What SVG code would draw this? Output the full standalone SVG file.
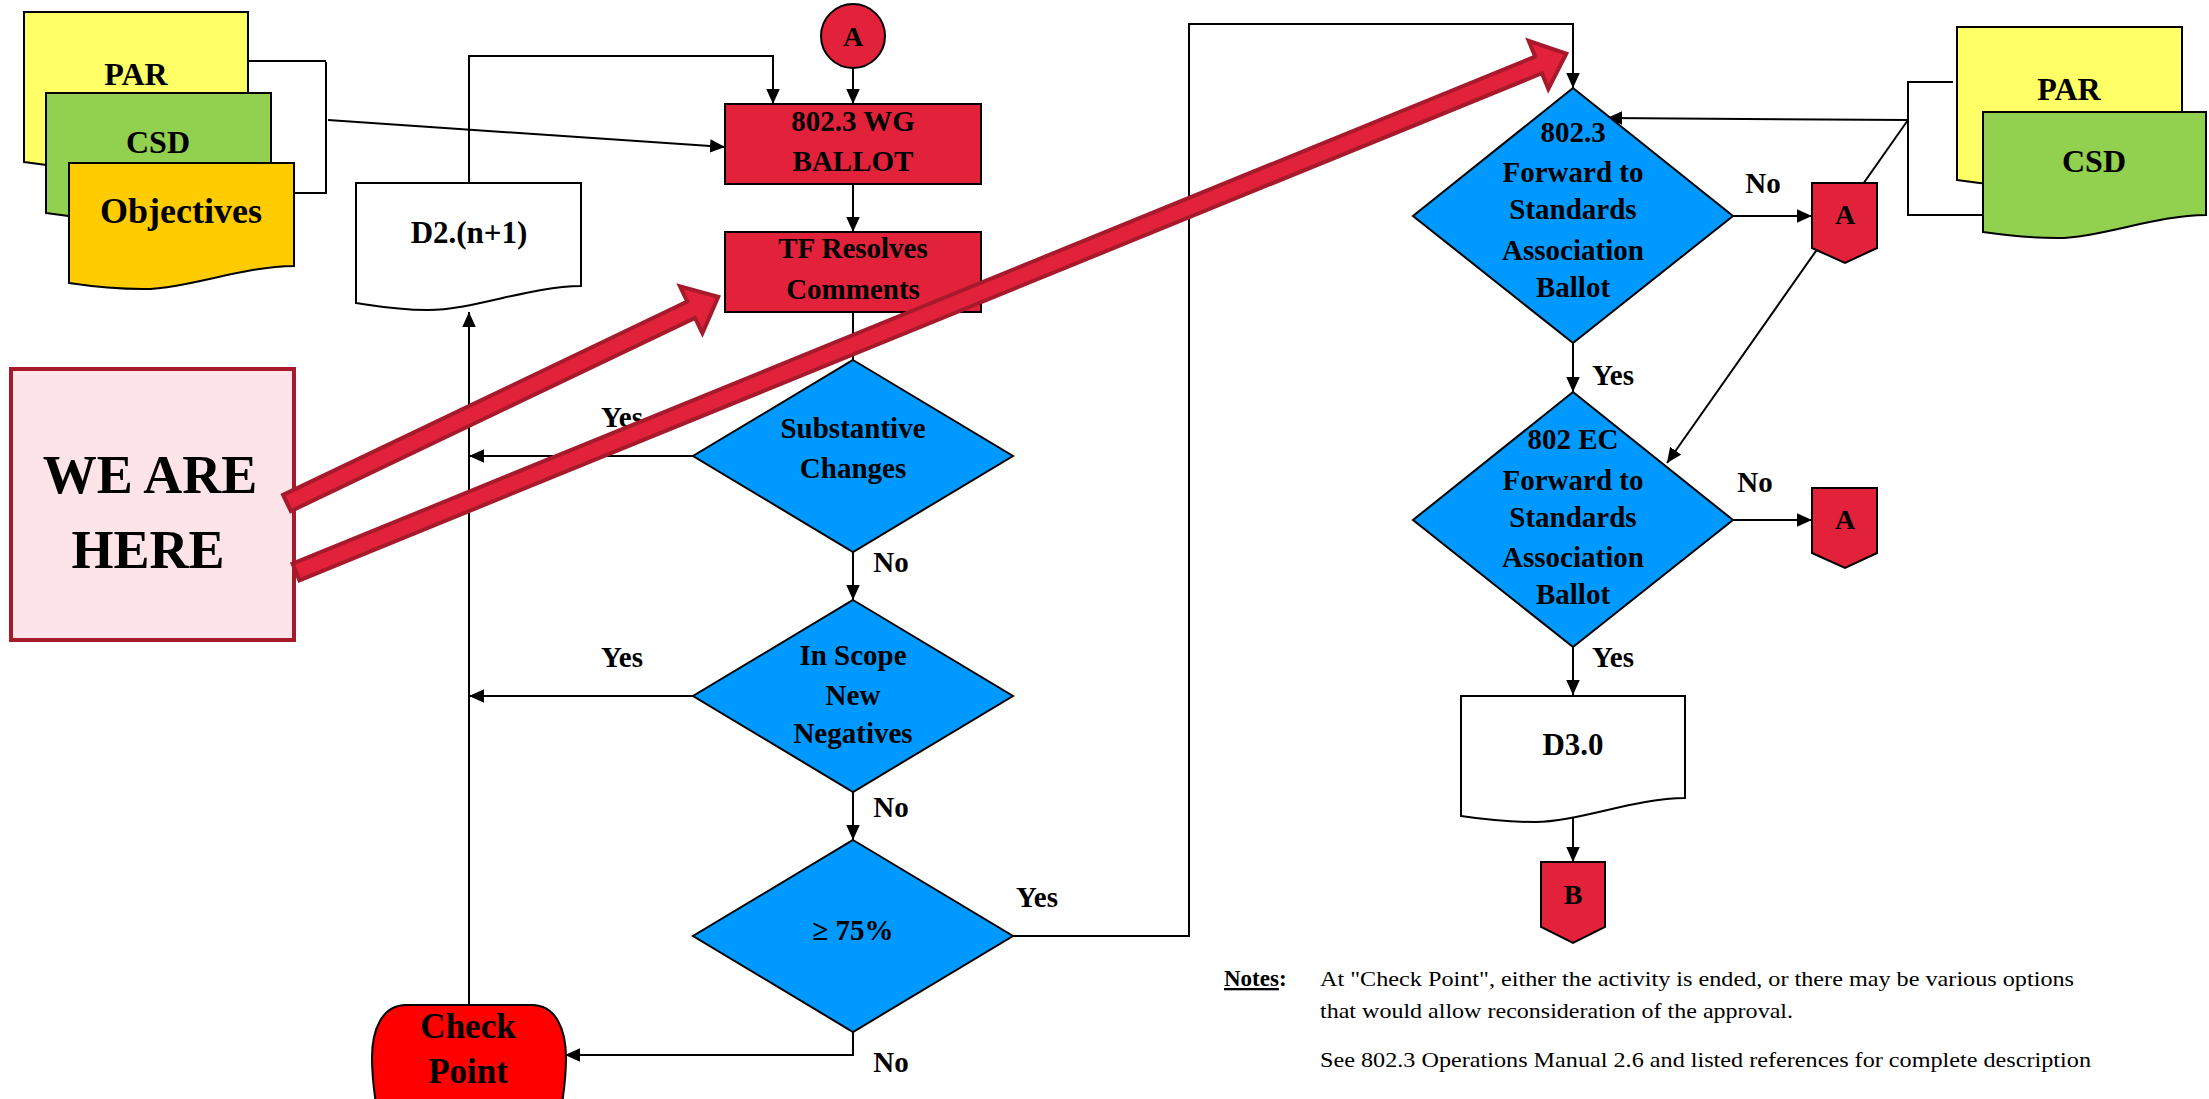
<svg xmlns="http://www.w3.org/2000/svg" width="2209" height="1099" viewBox="0 0 2209 1099">
<defs>
<style>
.s{stroke:#000;stroke-width:2}
.c{fill:none;stroke:#000;stroke-width:2}
.a{marker-end:url(#ah)}
.t{font-family:"Liberation Serif","Times New Roman",serif;font-weight:bold;text-anchor:middle;fill:#000;font-size:29px}
.big{font-size:32px}
.n{font-family:"Liberation Serif","Times New Roman",serif;font-size:21px;fill:#000}
.red{fill:#E2223A}
.blue{fill:#0099FF}
.ra{fill:#E2223A;stroke:#A71A2C;stroke-width:4;stroke-linejoin:miter}
</style>
<marker id="ah" viewBox="0 0 10 10" refX="10" refY="5" markerWidth="15" markerHeight="15" markerUnits="userSpaceOnUse" orient="auto">
<path d="M0,0.5 L10,5 L0,9.5 z" fill="#000"/>
</marker>
</defs>
<rect width="2209" height="1099" fill="#fff"/>

<g id="connectors">
<path class="c a" d="M853,68 V104"/>
<path class="c a" d="M469,183 V56 H773 V104"/>
<path class="c" d="M248,61 H326 M326,62 V193 M294,193 H327"/>
<path class="c a" d="M328,120 L725,147"/>
<path class="c a" d="M853,184 V232"/>
<path class="c" d="M853,312 V360"/>
<path class="c a" d="M693,456 H469"/>
<path class="c a" d="M853,552 V600"/>
<path class="c a" d="M693,696 H469"/>
<path class="c a" d="M853,792 V840"/>
<path class="c a" d="M1013,936 H1189 V24 H1573 V88"/>
<path class="c a" d="M853,1032 V1055 H565"/>
<path class="c a" d="M469,1005 V312"/>
<path class="c a" d="M1732,216 H1812"/>
<path class="c a" d="M1573,343 V392"/>
<path class="c" d="M1953,82 H1908 V215 H1983"/>
<path class="c a" d="M1908,120 L1607,118"/>
<path class="c a" d="M1908,120 L1667,463"/>
<path class="c a" d="M1573,647 V695"/>
<path class="c a" d="M1733,520 H1812"/>
<path class="c a" d="M1573,818 V862"/>
<text class="t" x="622" y="427">Yes</text>
<text class="t" x="622" y="667">Yes</text>
<text class="t" x="891" y="572">No</text>
<text class="t" x="891" y="817">No</text>
<text class="t" x="1037" y="907">Yes</text>
<text class="t" x="891" y="1072">No</text>
<text class="t" x="1763" y="193">No</text>
<text class="t" x="1613" y="385">Yes</text>
<text class="t" x="1755" y="492">No</text>
<text class="t" x="1613" y="667">Yes</text>
</g>

<g id="par-left">
<path class="s" fill="#FFFF66" d="M24,12 H248 V145 C199,145 140,168 98,168 C67,168 44,165 24,162 Z"/>
<text class="t big" x="136" y="85">PAR</text>
</g>
<g id="csd-left">
<path class="s" fill="#92D050" d="M46,93 H271 V196 C221,196 163,219 120,219 C89,219 66,216 46,213 Z"/>
<text class="t big" x="158" y="153">CSD</text>
</g>
<g id="objectives">
<path class="s" fill="#FFCC00" d="M69,163 H294 V266 C244,266 186,289 143,289 C112,289 89,286 69,283 Z"/>
<text class="t" x="181" y="223" style="font-size:36px">Objectives</text>
</g>
<g id="d2">
<path class="s" fill="#fff" d="M356,183 H581 V286 C531,286 473,310 428,310 C397,310 376,306 356,303 Z"/>
<text class="t" x="469" y="243" style="font-size:31px">D2.(n+1)</text>
</g>
<g id="conn-a-top">
<circle class="s red" cx="853" cy="36" r="32"/>
<text class="t" x="853" y="46" style="font-size:28px">A</text>
</g>
<g id="wg-ballot">
<rect class="s red" x="725" y="104" width="256" height="80"/>
<text class="t" x="853" y="131">802.3 WG</text>
<text class="t" x="853" y="171">BALLOT</text>
</g>
<g id="tf-resolves">
<rect class="s red" x="725" y="232" width="256" height="80"/>
<text class="t" x="853" y="258">TF Resolves</text>
<text class="t" x="853" y="299">Comments</text>
</g>
<g id="substantive">
<path class="s blue" d="M853,360 L1013,456 L853,552 L693,456 Z"/>
<text class="t" x="853" y="438">Substantive</text>
<text class="t" x="853" y="478">Changes</text>
</g>
<g id="in-scope">
<path class="s blue" d="M853,600 L1013,696 L853,792 L693,696 Z"/>
<text class="t" x="853" y="665">In Scope</text>
<text class="t" x="853" y="705">New</text>
<text class="t" x="853" y="743">Negatives</text>
</g>
<g id="seventy-five">
<path class="s blue" d="M853,840 L1013,936 L853,1032 L693,936 Z"/>
<text class="t" x="853" y="940">≥ 75%</text>
</g>
<g id="check-point">
<path class="s" fill="#FF0000" d="M406,1005 H532 C555,1005 566,1028 566,1058 C566,1080 563,1098 561,1110 L377,1110 C375,1098 372,1080 372,1058 C372,1028 383,1005 406,1005 Z"/>
<text class="t" x="468" y="1038" style="font-size:35px">Check</text>
<text class="t" x="468" y="1083" style="font-size:35px">Point</text>
</g>
<g id="we-are-here">
<rect x="11" y="369" width="283" height="271" fill="#FCE4E8" stroke="#A71A2C" stroke-width="4"/>
<text class="t" x="150" y="493" style="font-size:54px">WE ARE</text>
<text class="t" x="148" y="568" style="font-size:54px">HERE</text>
</g>
<g id="fwd-sa">
<path class="s blue" d="M1573,88 L1733,216 L1573,343 L1413,216 Z"/>
<text class="t" x="1573" y="142">802.3</text>
<text class="t" x="1573" y="182">Forward to</text>
<text class="t" x="1573" y="219">Standards</text>
<text class="t" x="1573" y="260">Association</text>
<text class="t" x="1573" y="297">Ballot</text>
</g>
<g id="conn-a-1">
<path class="s red" d="M1812,183 H1877 V248 L1845,263 L1812,248 Z"/>
<text class="t" x="1845" y="224" style="font-size:28px">A</text>
</g>
<g id="par-right">
<path class="s" fill="#FFFF66" d="M1957,27 H2182 V163 C2132,163 2074,186 2031,186 C2000,186 1977,183 1957,180 Z"/>
<text class="t big" x="2069" y="100">PAR</text>
</g>
<g id="csd-right">
<path class="s" fill="#92D050" d="M1983,112 H2206 V215 C2157,215 2099,238 2057,238 C2025,238 2003,235 1983,232 Z"/>
<text class="t big" x="2094" y="172">CSD</text>
</g>
<g id="ec-fwd">
<path class="s blue" d="M1573,392 L1733,520 L1573,647 L1413,520 Z"/>
<text class="t" x="1573" y="449">802 EC</text>
<text class="t" x="1573" y="490">Forward to</text>
<text class="t" x="1573" y="527">Standards</text>
<text class="t" x="1573" y="567">Association</text>
<text class="t" x="1573" y="604">Ballot</text>
</g>
<g id="conn-a-2">
<path class="s red" d="M1812,488 H1877 V553 L1845,568 L1812,553 Z"/>
<text class="t" x="1845" y="529" style="font-size:28px">A</text>
</g>
<g id="d3">
<path class="s" fill="#fff" d="M1461,696 H1685 V798 C1636,798 1577,822 1535,822 C1504,822 1481,819 1461,816 Z"/>
<text class="t" x="1573" y="755" style="font-size:31px">D3.0</text>
</g>
<g id="conn-b">
<path class="s red" d="M1541,862 H1605 V927 L1573,943 L1541,927 Z"/>
<text class="t" x="1573" y="904" style="font-size:28px">B</text>
</g>
<g id="notes">
<text class="n" x="1224" y="986" style="font-weight:bold;font-size:23px"><tspan text-decoration="underline">Notes</tspan>:</text>
<text class="n" x="1320" y="986" textLength="754" lengthAdjust="spacingAndGlyphs">At "Check Point", either the activity is ended, or there may be various options</text>
<text class="n" x="1320" y="1018" textLength="473" lengthAdjust="spacingAndGlyphs">that would allow reconsideration of the approval.</text>
<text class="n" x="1320" y="1067" textLength="771" lengthAdjust="spacingAndGlyphs">See 802.3 Operations Manual 2.6 and listed references for complete description</text>
</g>

<g id="red-arrows">
<polygon class="ra" transform="translate(287,503) rotate(-25.55)" points="0,-9 448,-9 448,-26 478,0 448,26 448,9 0,9"/>
<polygon class="ra" transform="translate(296,572) rotate(-22.2)" points="0,-9 1342,-9 1342,-26 1372,0 1342,26 1342,9 0,9"/>
</g>
</svg>
